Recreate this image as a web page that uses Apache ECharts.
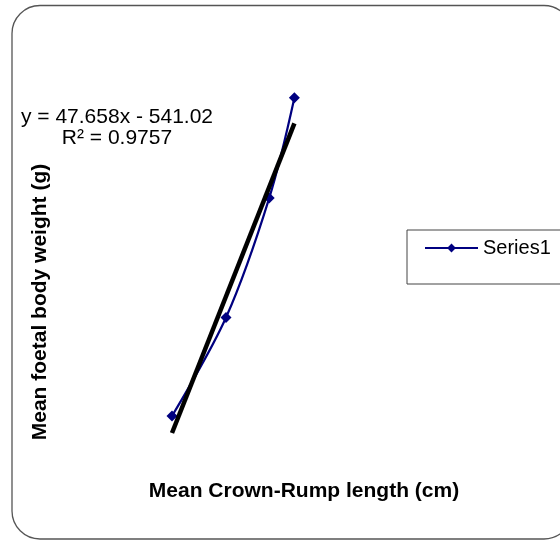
<!DOCTYPE html>
<html>
<head>
<meta charset="utf-8">
<script src="https://cdn.jsdelivr.net/npm/echarts@6/dist/echarts.min.js"></script>
<style>
html,body{margin:0;padding:0;background:#fff;}
#chart{width:560px;height:540px;}
</style>
</head>
<body>
<div id="chart"></div>
<script>
// Data
var crownRumpLength = [14.0, 17.0, 19.4, 20.8];   // cm
var foetalWeight = [144, 247, 372, 477];          // g
var seriesName = 'Series1';
var trendSlope = 47.658;
var trendIntercept = -541.02;
var trendR2 = '0.9757';
var xTitle = 'Mean Crown-Rump length (cm)';
var yTitle = 'Mean foetal body weight (g)';

var FONT = '"Liberation Sans", Arial, sans-serif';
var points = crownRumpLength.map(function (x, i) { return [x, foetalWeight[i]]; });
var xMin = Math.min.apply(null, crownRumpLength);
var xMax = Math.max.apply(null, crownRumpLength);
var trend = [[xMin, trendSlope * xMin + trendIntercept], [xMax, trendSlope * xMax + trendIntercept]];
var eqText = 'y = ' + trendSlope + 'x - ' + Math.abs(trendIntercept).toFixed(2) + '\nR\u00B2 = ' + trendR2;

var chart = echarts.init(document.getElementById('chart'), null, {renderer: 'canvas'});
chart.setOption({
  animation: false,
  backgroundColor: '#fff',
  grid: {left: 64, top: 28, width: 324, height: 430},
  xAxis: {
    type: 'value', min: 8, max: 26,
    axisLine: {show: false}, axisTick: {show: false}, axisLabel: {show: false}, splitLine: {show: false}
  },
  yAxis: {
    type: 'value', min: 100, max: 550,
    axisLine: {show: false}, axisTick: {show: false}, axisLabel: {show: false}, splitLine: {show: false}
  },
  legend: {
    data: [seriesName],
    left: 407, top: 230,
    orient: 'vertical',
    padding: [8, 70, 26, 17],
    borderColor: '#444', borderWidth: 1,
    itemWidth: 53, itemHeight: 11,
    textStyle: {fontFamily: FONT, fontSize: 20, color: '#000'}
  },
  graphic: [
    {type: 'rect', shape: {x: 12, y: 5.5, width: 560, height: 533.5, r: 28},
     style: {fill: null, stroke: '#555', lineWidth: 1.3}, silent: true, z: 0},
    {type: 'text', x: 117, y: 107,
     style: {text: eqText, font: '21px ' + FONT, fill: '#000', textAlign: 'center', lineHeight: 21}},
    {type: 'text', x: 304, y: 491,
     style: {text: xTitle, font: 'bold 21px ' + FONT, fill: '#000', textAlign: 'center', textVerticalAlign: 'middle'}},
    {type: 'text', x: 40, y: 302, rotation: Math.PI / 2,
     style: {text: yTitle, font: 'bold 21px ' + FONT, fill: '#000', textAlign: 'center', textVerticalAlign: 'middle'}}
  ],
  series: [
    {
      name: seriesName, type: 'line', data: points, smooth: 0.35,
      symbol: 'diamond', symbolSize: 11,
      lineStyle: {color: '#000080', width: 2.2},
      itemStyle: {color: '#000080'}, z: 2
    },
    {
      name: 'trend', type: 'line', data: trend, symbol: 'none',
      lineStyle: {color: '#000', width: 4.5}, z: 3, silent: true
    }
  ]
});
</script>
</body>
</html>
